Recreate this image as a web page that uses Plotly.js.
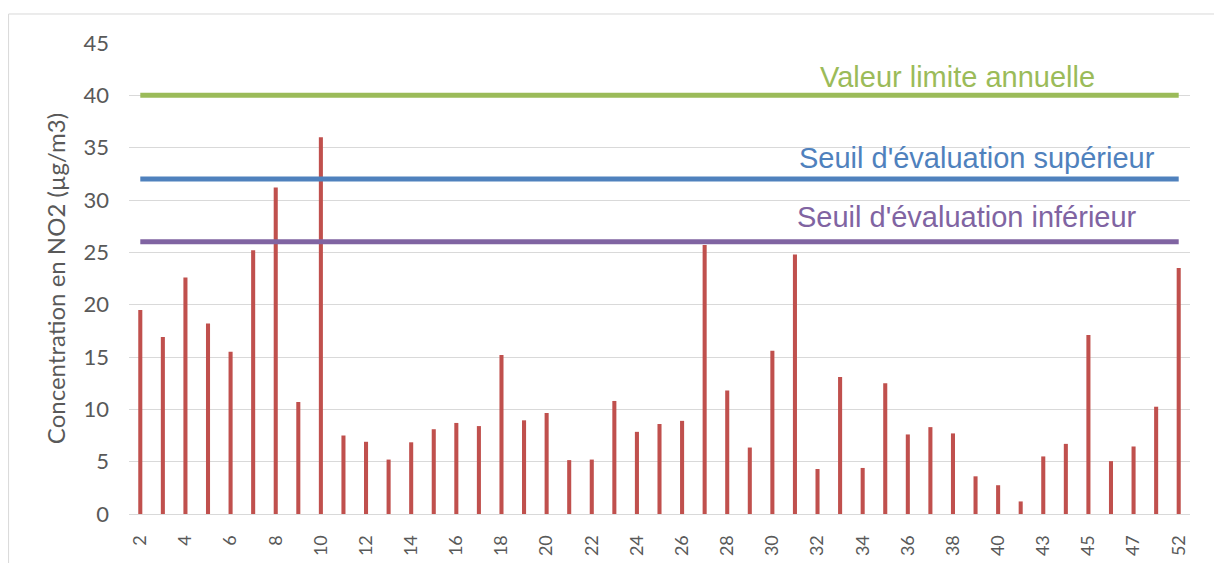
<!DOCTYPE html>
<html>
<head>
<meta charset="utf-8">
<script src="https://cdn.plot.ly/plotly-3.0.1.min.js"></script>
<style>
html,body{margin:0;padding:0;background:#fff;}
#chart{width:1214px;height:563px;}
</style>
</head>
<body>
<div id="chart"></div>
<script>
// Category labels (weeks / sites) along the x axis
const categories = ['2','3','4','5','6','7','8','9','10','11','12','13','14','15','16','17','18','19','20','21','22','23','24','25','26','27','28','29','30','31','32','33','34','35','36','37','38','39','40','41','43','44','45','46','47','50','52'];
// NO2 concentrations (µg/m3)
const concentrations = [19.5,16.9,22.6,18.2,15.5,25.2,31.2,10.7,36.0,7.5,6.9,5.2,6.85,8.1,8.7,8.4,15.2,8.95,9.65,5.15,5.2,10.8,7.85,8.6,8.9,25.7,11.8,6.35,15.6,24.8,4.3,13.1,4.4,12.5,7.6,8.3,7.7,3.6,2.75,1.2,5.5,6.7,17.1,5.05,6.45,10.25,23.5];
// Visible tick labels
const tickLabels = ['2','4','6','8','10','12','14','16','18','20','22','24','26','28','30','32','34','36','38','40','43','45','47','52'];
// Reference thresholds
const thresholdNames = ['Valeur limite annuelle', "Seuil d'évaluation supérieur", "Seuil d'évaluation inférieur"];
const thresholdValues = [40, 32, 26];
const thresholdColors = ['#9BBB59', '#4F81BD', '#8064A2'];

const first = categories[0], last = categories[categories.length - 1];

const traces = [{
  type: 'bar',
  x: categories,
  y: concentrations,
  marker: {color: '#C0504D'},
  hoverinfo: 'x+y'
}];
thresholdValues.forEach((v, i) => {
  traces.push({
    type: 'scatter',
    mode: 'lines',
    x: [first, last],
    y: [v, v],
    line: {color: thresholdColors[i], width: 5},
    name: thresholdNames[i]
  });
});

const labelX = [0.781, 0.7995, 0.790];
const labelOffset = [1.76, 2.03, 2.39];
const annotations = thresholdNames.map((t, i) => ({
  text: t,
  xref: 'paper', yref: 'y',
  x: labelX[i], y: thresholdValues[i] + labelOffset[i],
  xanchor: 'center', yanchor: 'middle',
  showarrow: false,
  font: {family: 'Liberation Sans, Arial, sans-serif', size: 29, color: thresholdColors[i]}
}));

const layout = {
  width: 1214, height: 563,
  margin: {l: 129, r: 24, t: 43, b: 49},
  paper_bgcolor: '#ffffff',
  plot_bgcolor: '#ffffff',
  showlegend: false,
  bargap: 0.82,
  font: {family: 'Lato, sans-serif', color: '#595959'},
  xaxis: {
    type: 'category',
    categoryorder: 'array',
    categoryarray: categories,
    tickmode: 'array',
    tickvals: tickLabels,
    ticktext: tickLabels,
    tickangle: -90,
    tickfont: {size: 18, color: '#595959'},
    ticklabelstandoff: 13,
    showgrid: false,
    showline: true,
    linecolor: '#d9d9d9',
    linewidth: 1,
    ticks: '',
    zeroline: false
  },
  yaxis: {
    range: [0, 45],
    dtick: 5,
    tick0: 0,
    showgrid: true,
    gridcolor: '#d9d9d9',
    gridwidth: 1,
    zeroline: false,
    ticks: '',
    ticklabelstandoff: 19,
    tickfont: {size: 22, color: '#595959'},
    title: {text: 'Concentration en NO2 (µg/m3)', font: {size: 24, color: '#595959'}, standoff: 11}
  },
  annotations: annotations,
  shapes: [{
    type: 'rect', xref: 'paper', yref: 'paper',
    x0: -0.1135, x1: 1.03, y0: -0.2, y1: 1.0616,
    line: {color: '#d9d9d9', width: 1},
    fillcolor: 'rgba(0,0,0,0)',
    layer: 'below'
  }]
};

Plotly.newPlot('chart', traces, layout, {displayModeBar: false, staticPlot: true});
</script>
</body>
</html>
